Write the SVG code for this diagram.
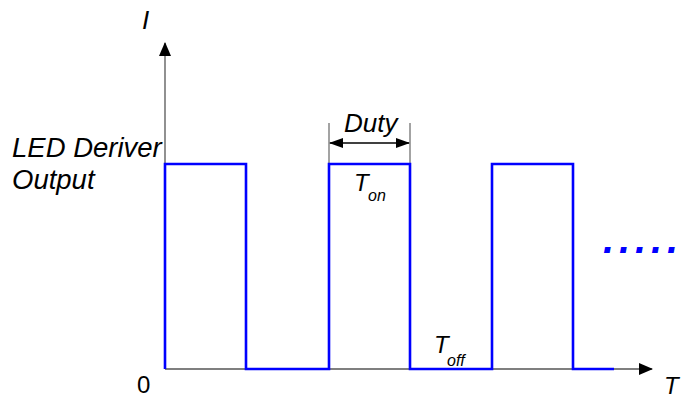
<svg xmlns="http://www.w3.org/2000/svg" width="683" height="398" viewBox="0 0 683 398">
<defs>
<style>
.ax{stroke:#555;stroke-width:1.3;fill:none}
.gl{stroke:#666;stroke-width:1.2;fill:none}
.wave{stroke:#0000ff;stroke-width:2.6;fill:none;stroke-linejoin:miter}
.lbl{font-family:"Liberation Sans",Arial,sans-serif;font-style:italic;fill:#000}
.dots{font-family:"Liberation Sans",Arial,sans-serif;font-style:italic;font-weight:bold;fill:#0000ff}
</style>
<marker id="ah" markerWidth="14" markerHeight="12" refX="13" refY="6" orient="auto" markerUnits="userSpaceOnUse">
<path d="M0,0 L14,6 L0,12 Z" fill="#000"/>
</marker>
<marker id="dh" markerWidth="14" markerHeight="10" refX="13" refY="5" orient="auto-start-reverse" markerUnits="userSpaceOnUse">
<path d="M0,0 L14,5 L0,10 Z" fill="#000"/>
</marker>
</defs>
<g id="connectors">
<line class="ax" x1="165" y1="369" x2="165" y2="43" marker-end="url(#ah)"/>
<line class="ax" x1="165" y1="369" x2="652" y2="369" marker-end="url(#ah)"/>
<line class="gl" x1="329" y1="123" x2="329" y2="164"/>
<line class="gl" x1="410" y1="123" x2="410" y2="164"/>
<line x1="330" y1="143" x2="409" y2="143" stroke="#000" stroke-width="1.3" marker-start="url(#dh)" marker-end="url(#dh)"/>
</g>
<g id="waveform">
<polyline class="wave" points="165,369 165,164 246,164 246,369 329,369 329,164 410,164 410,369 492,369 492,164 573,164 573,369 614,369"/>
<text class="dots" x="603 619 635 651 667" y="253" font-size="40">.....</text>
</g>
<g id="labels">
<text class="lbl" x="142" y="29" font-size="26">I</text>
<text class="lbl" x="12" y="157" font-size="27.5">LED Deriver</text>
<text class="lbl" x="12" y="189" font-size="27.5">Output</text>
<text class="lbl" x="344" y="132" font-size="26">Duty</text>
<text class="lbl" x="354" y="191" font-size="24">T</text>
<text class="lbl" x="368" y="201" font-size="16">on</text>
<text class="lbl" x="434" y="353" font-size="24">T</text>
<text class="lbl" x="447" y="366" font-size="16">off</text>
<text x="137" y="393" font-size="24" font-family="Liberation Sans,Arial,sans-serif" fill="#000">0</text>
<text class="lbl" x="664" y="394" font-size="24">T</text>
</g>
</svg>
